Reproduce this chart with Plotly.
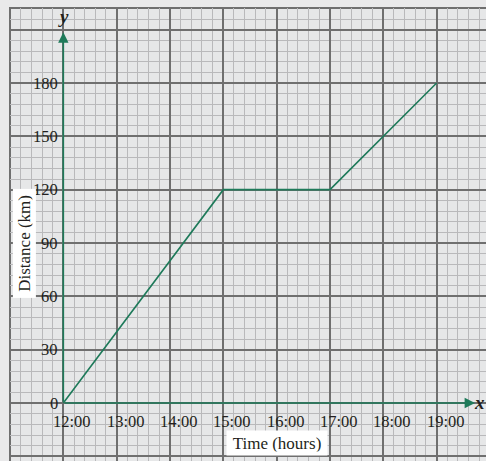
import plotly.graph_objects as go

# Data
times = [12, 15, 17, 19]          # hours
distance = [0, 120, 120, 180]     # km
x_ticks = [12, 13, 14, 15, 16, 17, 18, 19]
x_tick_labels = ["12:00", "13:00", "14:00", "15:00", "16:00", "17:00", "18:00", "19:00"]
y_ticks = [30, 60, 90, 120, 150, 180]
y_tick_labels = ["30", "60", "90", "120", "150", "180"]

GREEN = "#1e7a5a"
TXT = "#231f20"
FONT = "Liberation Serif"

fig = go.Figure()
fig.add_trace(go.Scatter(x=times, y=distance, mode="lines",
                         line=dict(color=GREEN, width=1.6), hoverinfo="skip"))

ann = []
# axes arrows
ann.append(dict(x=19.72, y=0, ax=12, ay=0, xref="x", yref="y", axref="x", ayref="y",
                showarrow=True, arrowhead=2, arrowsize=1.3, arrowwidth=1.6, arrowcolor=GREEN, text=""))
ann.append(dict(x=12, y=208.5, ax=12, ay=0, xref="x", yref="y", axref="x", ayref="y",
                showarrow=True, arrowhead=2, arrowsize=1.3, arrowwidth=1.6, arrowcolor=GREEN, text=""))
ann.append(dict(x=19.8, y=0, text="<b><i>x</i></b>", showarrow=False, xanchor="center", yanchor="middle",
                font=dict(family=FONT, size=19, color=TXT), yshift=1))
ann.append(dict(x=12, y=217, text="<b><i>y</i></b>", showarrow=False, xanchor="center", yanchor="middle",
                font=dict(family=FONT, size=19, color=TXT), yshift=1))
for t, lab in zip(x_ticks, x_tick_labels):
    ann.append(dict(x=t, y=0, text=lab, showarrow=False, xanchor="center", yanchor="middle",
                    xshift=9, yshift=-18.5, font=dict(family=FONT, size=16.5, color=TXT)))
for v, lab in zip(y_ticks, y_tick_labels):
    ann.append(dict(x=12, y=v, text=lab, showarrow=False, xanchor="right", yanchor="middle",
                    xshift=-3, font=dict(family=FONT, size=16.5, color=TXT)))
ann.append(dict(x=12, y=0, text="0", showarrow=False, xanchor="right", yanchor="middle",
                xshift=-3, yshift=0, font=dict(family=FONT, size=16.5, color=TXT)))
# axis titles with white boxes
ann.append(dict(x=16.0, y=-22.5, text="Time (hours)", showarrow=False, xanchor="center", yanchor="middle",
                font=dict(family=FONT, size=17, color=TXT), bgcolor="white",
                width=93, height=17, borderpad=3.5))
ann.append(dict(x=11.27, y=90, text="Distance (km)", showarrow=False, xanchor="center", yanchor="middle",
                textangle=-90, font=dict(family=FONT, size=17, color=TXT), bgcolor="white",
                width=102, height=16, borderpad=3))

fig.update_layout(
    width=486, height=461,
    margin=dict(l=10, r=0, t=8, b=0),
    paper_bgcolor="#e9e9ea",
    plot_bgcolor="#e6e7e8",
    showlegend=False,
    annotations=ann,
    xaxis=dict(range=[11.0, 11.0 + 476 / 53.33], showticklabels=False, ticks="",
               tick0=11, dtick=1, showgrid=True, gridcolor="#6f6f6f", gridwidth=1.6,
               minor=dict(dtick=0.2, showgrid=True, gridcolor="#b9b9bb", gridwidth=1.2),
               zeroline=False, showline=False, fixedrange=True),
    yaxis=dict(range=[-32.625, 222.19], showticklabels=False, ticks="",
               tick0=0, dtick=30, showgrid=True, gridcolor="#6f6f6f", gridwidth=1.6,
               minor=dict(dtick=6, showgrid=True, gridcolor="#b9b9bb", gridwidth=1.2),
               zeroline=False, showline=False, fixedrange=True),
    shapes=[dict(type="rect", xref="paper", yref="paper", x0=0, x1=1.01, y0=-0.01, y1=1,
                 line=dict(color="#6f6f6f", width=2), layer="below")],
)

fig.write_html("out.html", config=dict(displayModeBar=False),
               post_script="document.body.style.margin='0';document.body.style.overflow='hidden';")
